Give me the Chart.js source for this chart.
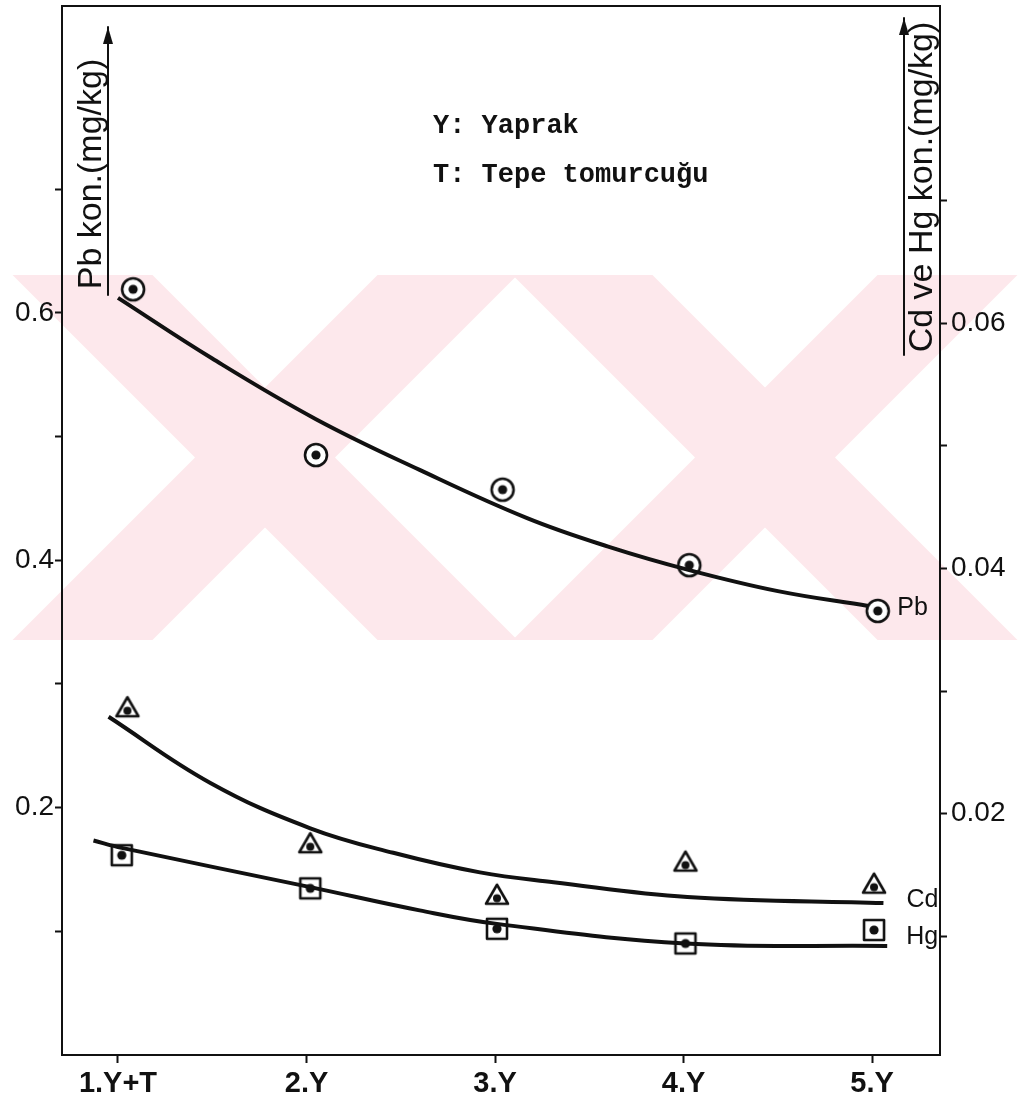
<!DOCTYPE html>
<html>
<head>
<meta charset="utf-8">
<script src="https://cdn.jsdelivr.net/npm/chart.js@4.4.0/dist/chart.umd.min.js"></script>
<style>
  html, body { margin: 0; background: #fff; }
  canvas { display: block; }
</style>
</head>
<body>
<canvas id="grafik" width="1021" height="1103"></canvas>
<script>
// yaprak grupları
const categories = ['1.Y+T', '2.Y', '3.Y', '4.Y', '5.Y'];

// ölçüm noktaları (Pb sol eksen, Cd ve Hg sağ eksen)
const pbX = [1.08, 2.05, 3.04, 4.03, 5.03];
const pbValues = [0.619, 0.485, 0.457, 0.396, 0.359];
const cdX = [1.05, 2.02, 3.01, 4.01, 5.01];
const cdValues = [0.0286, 0.0175, 0.0133, 0.0160, 0.0142];
const hgX = [1.02, 2.02, 3.01, 4.01, 5.01];
const hgValues = [0.0166, 0.0139, 0.0106, 0.0094, 0.0105];

// elle çizilmiş eğriler
const pbCurveX = [1.0, 1.5, 2.05, 2.6, 3.17, 3.6, 4.03, 4.5, 4.98];
const pbCurve = [0.612, 0.563, 0.514, 0.473, 0.434, 0.411, 0.392, 0.375, 0.363];
const cdCurveX = [0.95, 1.49, 2.02, 2.46, 2.92, 3.31, 4.02, 5.06];
const cdCurve = [0.0279, 0.0225, 0.0188, 0.0168, 0.0152, 0.0144, 0.0132, 0.0127];
const hgCurveX = [0.87, 1.02, 2.02, 2.60, 3.01, 4.01, 5.08];
const hgCurve = [0.0178, 0.0172, 0.0140, 0.0121, 0.0110, 0.0094, 0.0092];

// eksen çentikleri
const pbTicks = [0.1, 0.2, 0.3, 0.4, 0.5, 0.6, 0.7];
const pbTickLabels = ['', '0.2', '', '0.4', '', '0.6', ''];
const cdHgTicks = [0.01, 0.02, 0.03, 0.04, 0.05, 0.06, 0.07];
const cdHgTickLabels = ['', '0.02', '', '0.04', '', '0.06', ''];

const INK = '#111';

function pts(xs, ys) {
  return xs.map((x, i) => ({ x: x, y: ys[i] }));
}

// nokta işaretleri: daire, üçgen, kare (ortada dolu nokta)
function marker(kind) {
  const c = document.createElement('canvas');
  c.width = 32; c.height = 32;
  const g = c.getContext('2d');
  g.strokeStyle = INK; g.fillStyle = '#fff'; g.lineWidth = 2.6; g.lineJoin = 'round';
  g.beginPath();
  if (kind === 'circle') {
    g.arc(16, 16, 11, 0, Math.PI * 2);
  } else if (kind === 'triangle') {
    g.moveTo(16, 5); g.lineTo(27, 24); g.lineTo(5, 24); g.closePath();
  } else {
    g.rect(6, 6, 20, 20);
  }
  g.fill(); g.stroke();
  g.fillStyle = INK;
  g.beginPath();
  if (kind === 'triangle') g.arc(16, 18.5, 4, 0, Math.PI * 2);
  else g.arc(16, 16, 4.6, 0, Math.PI * 2);
  g.fill();
  return c;
}

const curveStyle = {
  borderColor: INK, borderWidth: 4, pointRadius: 0,
  tension: 0.4, fill: false
};
const pointStyleBase = { showLine: false, pointRadius: 12, pointHoverRadius: 12 };

// filigran, çerçeve, ok ve yazılar
const decorations = {
  id: 'decorations',
  beforeDraw(chart) {
    const ctx = chart.ctx;
    ctx.save();
    ctx.beginPath();
    ctx.rect(0, 275, chart.width, 365);
    ctx.clip();
    ctx.fillStyle = '#fde8ec';
    const cy = 457.5, w = 140;
    [265, 765].forEach(cx => {
      const top = 275, bot = 640;
      ctx.beginPath();
      ctx.moveTo(cx + (top - cy) - w / 2, top);
      ctx.lineTo(cx + (top - cy) + w / 2, top);
      ctx.lineTo(cx + (bot - cy) + w / 2, bot);
      ctx.lineTo(cx + (bot - cy) - w / 2, bot);
      ctx.closePath();
      ctx.fill();
      ctx.beginPath();
      ctx.moveTo(cx - (top - cy) - w / 2, top);
      ctx.lineTo(cx - (top - cy) + w / 2, top);
      ctx.lineTo(cx - (bot - cy) + w / 2, bot);
      ctx.lineTo(cx - (bot - cy) - w / 2, bot);
      ctx.closePath();
      ctx.fill();
    });
    ctx.restore();
  },
  afterDraw(chart) {
    const ctx = chart.ctx;
    const a = chart.chartArea;
    ctx.save();
    ctx.strokeStyle = INK;
    ctx.fillStyle = INK;
    ctx.lineWidth = 2;
    ctx.lineCap = 'round';

    // üst kenar
    ctx.beginPath();
    ctx.moveTo(a.left, a.top);
    ctx.lineTo(a.right, a.top);
    ctx.stroke();

    // eksen okları
    const arrow = (x, y0, y1) => {
      ctx.beginPath();
      ctx.moveTo(x, y0); ctx.lineTo(x, y1);
      ctx.stroke();
      ctx.beginPath();
      ctx.moveTo(x, y1); ctx.lineTo(x - 5, y1 + 17); ctx.lineTo(x + 5, y1 + 17);
      ctx.closePath();
      ctx.fill();
    };
    arrow(108, 295, 27);
    arrow(904, 355, 18);

    // eksen başlıkları
    ctx.font = '34px "Liberation Sans", Arial, sans-serif';
    ctx.textAlign = 'center';
    ctx.textBaseline = 'alphabetic';
    const vtext = (txt, x, y) => {
      ctx.save();
      ctx.translate(x, y);
      ctx.rotate(-Math.PI / 2);
      ctx.fillText(txt, 0, 0);
      ctx.restore();
    };
    vtext('Pb kon.(mg/kg)', 101, 174);
    vtext('Cd ve Hg kon.(mg/kg)', 932, 187);

    // açıklama
    ctx.textAlign = 'left';
    ctx.font = 'bold 27px "Liberation Mono", "Courier New", monospace';
    ctx.fillText('Y: Yaprak', 433, 133);
    ctx.fillText('T: Tepe tomurcuğu', 433, 182);

    // eğri adları
    ctx.font = '25px "Liberation Sans", Arial, sans-serif';
    ctx.textBaseline = 'middle';
    const x = chart.scales.x;
    const tags = [
      ['Pb', pbCurveX, pbCurve, 'yPb', 29, 2],
      ['Cd', cdCurveX, cdCurve, 'yCdHg', 23, -3],
      ['Hg', hgCurveX, hgCurve, 'yCdHg', 19, -9]
    ];
    tags.forEach(([name, xs, ys, axis, dx, dy]) => {
      const n = xs.length - 1;
      const px = x.getPixelForValue(xs[n]) + dx;
      const py = chart.scales[axis].getPixelForValue(ys[n]) + dy;
      ctx.fillText(name, px, py);
    });
    ctx.restore();
  }
};

const gridStyle = {
  drawOnChartArea: false, drawTicks: true, tickLength: 7, tickWidth: 2, tickColor: INK, color: INK
};
const borderStyle = { display: true, color: INK, width: 2 };
const tickFont = { family: '"Liberation Sans", Arial, sans-serif', size: 28 };

function fixWidth(w) {
  return s => {
    s.width = w;
    s.paddingTop = 0;
    s.paddingBottom = 0;
  };
}

new Chart(document.getElementById('grafik'), {
  type: 'line',
  data: {
    datasets: [
      Object.assign({ label: 'Pb eğrisi', data: pts(pbCurveX, pbCurve), yAxisID: 'yPb' }, curveStyle),
      Object.assign({ label: 'Cd eğrisi', data: pts(cdCurveX, cdCurve), yAxisID: 'yCdHg' }, curveStyle),
      Object.assign({ label: 'Hg eğrisi', data: pts(hgCurveX, hgCurve), yAxisID: 'yCdHg' }, curveStyle),
      Object.assign({ label: 'Pb', data: pts(pbX, pbValues), yAxisID: 'yPb', pointStyle: marker('circle') }, pointStyleBase),
      Object.assign({ label: 'Cd', data: pts(cdX, cdValues), yAxisID: 'yCdHg', pointStyle: marker('triangle') }, pointStyleBase),
      Object.assign({ label: 'Hg', data: pts(hgX, hgValues), yAxisID: 'yCdHg', pointStyle: marker('square') }, pointStyleBase)
    ]
  },
  options: {
    responsive: false,
    animation: false,
    layout: { autoPadding: false, padding: { top: 6, left: 0, right: 0, bottom: 0 } },
    plugins: {
      legend: { display: false },
      tooltip: { enabled: false }
    },
    scales: {
      x: {
        type: 'linear',
        min: 0.703,
        max: 5.36,
        afterBuildTicks: s => { s.ticks = categories.map((c, i) => ({ value: i + 1 })); },
        afterFit: s => { s.height = 48; s.paddingLeft = 0; s.paddingRight = 0; },
        ticks: {
          callback: v => categories[Math.round(v) - 1],
          font: { family: '"Liberation Sans", Arial, sans-serif', size: 29, weight: 'bold' },
          color: INK, padding: 4, maxRotation: 0, autoSkip: false
        },
        grid: Object.assign({}, gridStyle, { tickLength: 8 }),
        border: borderStyle
      },
      yPb: {
        type: 'linear',
        position: 'left',
        min: 0,
        max: 0.848,
        afterBuildTicks: s => { s.ticks = pbTicks.map(v => ({ value: v })); },
        afterFit: fixWidth(62),
        ticks: {
          callback: (v, i) => pbTickLabels[i],
          font: tickFont, color: INK, padding: 1, autoSkip: false
        },
        grid: gridStyle,
        border: borderStyle
      },
      yCdHg: {
        type: 'linear',
        position: 'right',
        min: 0.0003,
        max: 0.0859,
        afterBuildTicks: s => { s.ticks = cdHgTicks.map(v => ({ value: v })); },
        afterFit: fixWidth(81),
        ticks: {
          callback: (v, i) => cdHgTickLabels[i],
          font: tickFont, color: INK, padding: 4, autoSkip: false
        },
        grid: gridStyle,
        border: borderStyle
      }
    }
  },
  plugins: [decorations]
});
</script>
</body>
</html>
